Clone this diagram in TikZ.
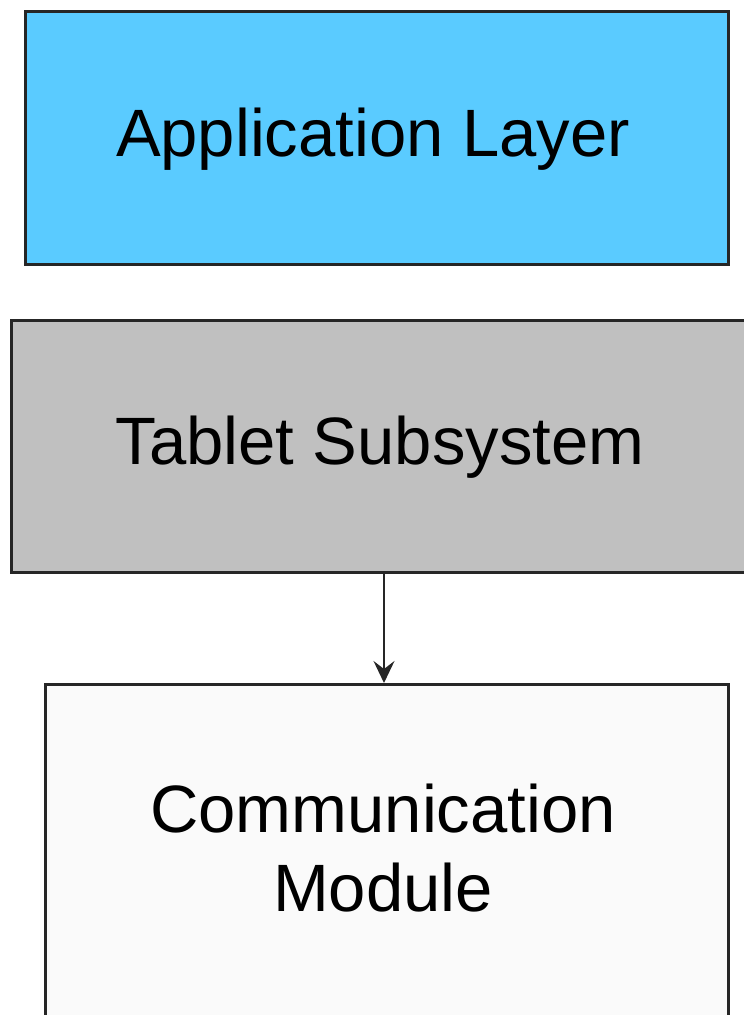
\documentclass[tikz,border=0pt]{standalone}
\usepackage{fontspec}
\setmainfont{Liberation Sans}
\usetikzlibrary{arrows.meta}
\definecolor{appblue}{RGB}{90,203,255}
\definecolor{tabgray}{RGB}{192,192,192}
\definecolor{commwhite}{RGB}{250,250,250}
\begin{document}
\begin{tikzpicture}[x=1pt,y=1pt,
  box/.style={draw=black!85, line width=3pt, inner sep=0pt, anchor=north west},
  lbl/.style={font=\fontsize{67}{79}\selectfont, text=black, anchor=base, inner sep=0pt, align=center},
  conn/.style={draw=black!85, line width=2pt, -{Stealth[length=22pt,width=21pt,inset=8pt]}}]
\useasboundingbox (0,0) rectangle (744,1015);
\clip (0,0) rectangle (744,1015);
\node[box, fill=appblue, minimum width=703pt, minimum height=253pt] (app) at (24,1005) {};
\node[box, fill=tabgray, minimum width=750pt, minimum height=252pt] (tab) at (10,696) {};
\node[box, fill=commwhite, minimum width=683pt, minimum height=370pt] (comm) at (44,332) {};
\node[lbl] (appt) at (373,858) {Application Layer};
\node[lbl] (tabt) at (380,550) {Tablet Subsystem};
\node[lbl] (commt) at (383,103) {Communication\\Module};
\draw[conn] (tab.south -| 384,0) -- (comm.north -| 384,0);
\end{tikzpicture}
\end{document}
